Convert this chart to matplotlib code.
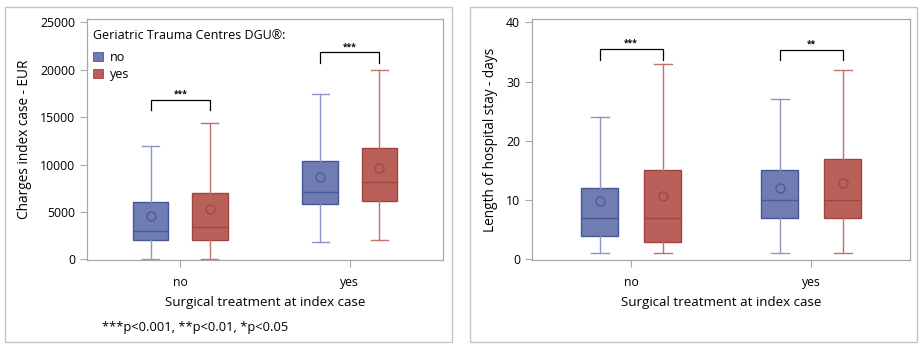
import matplotlib
matplotlib.use("Agg")
import matplotlib.pyplot as plt
import matplotlib.patches as mpatches

plt.rcParams["font.family"] = ["Open Sans", "DejaVu Sans"]

# surgical treatment at index case (x categories) and GTC status (series)
CATEGORIES = ["no", "yes"]
SERIES = ["no", "yes"]

# charges (EUR): whisker low, Q1, median, Q3, whisker high, mean -- one entry per category
charges_gtc_no = {"lo": [0, 1850], "q1": [2000, 5800], "med": [3000, 7050],
                  "q3": [6000, 10400], "hi": [12000, 17400], "mean": [4600, 8650]}
charges_gtc_yes = {"lo": [0, 2000], "q1": [2000, 6150], "med": [3450, 8200],
                   "q3": [7000, 11750], "hi": [14400, 20000], "mean": [5300, 9600]}
charges_sig = ["***", "***"]
charges_bracket = [16850, 21850]

# length of stay (days)
los_gtc_no = {"lo": [1, 1], "q1": [4, 7], "med": [7, 10],
              "q3": [12, 15], "hi": [24, 27], "mean": [9.85, 12.1]}
los_gtc_yes = {"lo": [1, 1], "q1": [3, 7], "med": [7, 10],
               "q3": [15, 17], "hi": [33, 32], "mean": [10.75, 12.9]}
los_sig = ["***", "**"]
los_bracket = [35.5, 35.4]

FILL = {"no": "#6F7DB3", "yes": "#BA605B"}
EDGE = {"no": "#4A5796", "yes": "#A2433D"}
WHISK = {"no": "#8E97C4", "yes": "#C0726D"}
GRID_GREY = "#A8A8A8"

OFFSET = 0.175
BOX_W = 0.21
CAP_W = 0.10


def draw_panel(ax, data, sig, bracket_y, ylim, yticks, ylabel):
    for j, (name, d) in enumerate(zip(SERIES, data)):
        stats = []
        for i in range(len(CATEGORIES)):
            stats.append(dict(whislo=d["lo"][i], q1=d["q1"][i], med=d["med"][i],
                              q3=d["q3"][i], whishi=d["hi"][i], mean=d["mean"][i],
                              fliers=[]))
        pos = [i + (2 * j - 1) * OFFSET for i in range(len(CATEGORIES))]
        ax.bxp(stats, positions=pos, widths=BOX_W, capwidths=CAP_W,
               showmeans=True, patch_artist=True, manage_ticks=False,
               boxprops=dict(facecolor=FILL[name], edgecolor=EDGE[name], linewidth=1.0),
               medianprops=dict(color=EDGE[name], linewidth=1.0),
               whiskerprops=dict(color=WHISK[name], linewidth=1.0),
               capprops=dict(color=WHISK[name], linewidth=1.0),
               meanprops=dict(marker="o", markerfacecolor="none",
                              markeredgecolor=EDGE[name], markersize=6.5,
                              markeredgewidth=0.9))

    span = ylim[1] - ylim[0]
    leg = span * 0.045
    for i, (s, yb) in enumerate(zip(sig, bracket_y)):
        x0, x1 = i - OFFSET, i + OFFSET
        ax.plot([x0, x0, x1, x1], [yb - leg, yb, yb, yb - leg],
                color="black", lw=0.9, solid_joinstyle="miter")
        ax.text((x0 + x1) / 2, yb + span * 0.004, s, ha="center", va="bottom",
                fontsize=6, fontweight="bold")

    ax.set_xlim(-0.55, 1.55)
    ax.set_ylim(*ylim)
    ax.set_xticks(range(len(CATEGORIES)))
    ax.set_xticklabels(CATEGORIES)
    ax.set_yticks(yticks)
    ax.tick_params(axis="both", direction="out", length=5, color=GRID_GREY,
                   labelsize=8.8, width=0.8)
    ax.tick_params(axis="x", pad=6.5)
    for sp in ax.spines.values():
        sp.set_color(GRID_GREY)
        sp.set_linewidth(0.9)
    ax.set_xlabel("Surgical treatment at index case", fontsize=9.6, labelpad=5)
    ax.set_ylabel(ylabel, fontsize=9.8, labelpad=6)


fig = plt.figure(figsize=(9.23, 3.49), dpi=100)

# panel frames
for x0, x1 in [(5, 452), (470, 917)]:
    fig.patches.append(mpatches.Rectangle((x0 / 923, 7 / 349), (x1 - x0) / 923, 335 / 349,
                                          transform=fig.transFigure, fill=False,
                                          edgecolor="#C4C4C4", linewidth=1.0))

ax1 = fig.add_axes([87 / 923, 89 / 349, 356 / 923, 241 / 349])
ax2 = fig.add_axes([532 / 923, 89 / 349, 378 / 923, 241 / 349])

draw_panel(ax1, [charges_gtc_no, charges_gtc_yes], charges_sig, charges_bracket,
           (-75, 25360), [0, 5000, 10000, 15000, 20000, 25000], "Charges index case - EUR")
draw_panel(ax2, [los_gtc_no, los_gtc_yes], los_sig, los_bracket,
           (-0.12, 40.57), [0, 10, 20, 30, 40], "Length of hospital stay - days")

handles = [mpatches.Patch(facecolor=FILL[s], edgecolor=EDGE[s], linewidth=0.6, label=s)
           for s in SERIES]
leg = ax1.legend(handles=handles, title="Geriatric Trauma Centres DGU®:", loc="upper left",
                 bbox_to_anchor=(0.0, 0.983), frameon=False, fontsize=9, title_fontsize=9,
                 handlelength=0.8, handleheight=0.8, handletextpad=0.5, labelspacing=0.35,
                 alignment="left", borderaxespad=0.1)
leg._legend_box.sep = 6

fig.text(102 / 923, 1 - 327 / 349, "***p<0.001, **p<0.01, *p<0.05", fontsize=9.3,
         ha="left", va="center")

fig.savefig("out.png", dpi=100)
